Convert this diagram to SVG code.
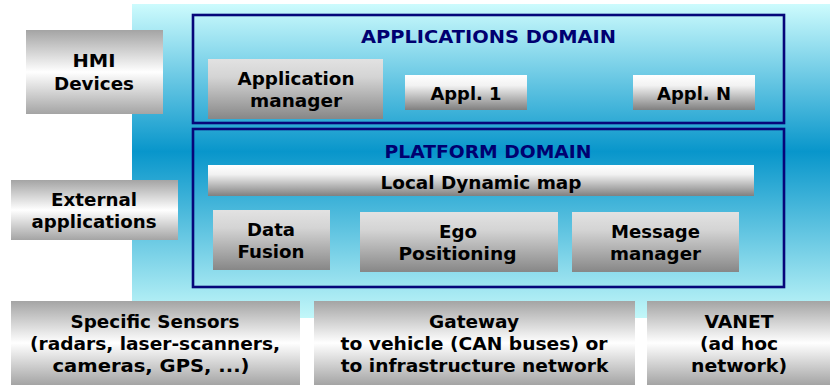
<svg xmlns="http://www.w3.org/2000/svg" width="830" height="385" viewBox="0 0 830 385">
<defs>
<linearGradient id="bg" x1="0" y1="0" x2="0" y2="1">
<stop offset="0" stop-color="#cdfbfd"/>
<stop offset="0.47" stop-color="#0896cb"/>
<stop offset="1" stop-color="#c2f7f9"/>
</linearGradient>
<linearGradient id="gSym" x1="0" y1="0" x2="0" y2="1">
<stop offset="0" stop-color="#a4a4a4"/>
<stop offset="0.5" stop-color="#ffffff"/>
<stop offset="1" stop-color="#a4a4a4"/>
</linearGradient>
<linearGradient id="gDark" x1="0" y1="0" x2="0" y2="1">
<stop offset="0" stop-color="#e2e2e2"/>
<stop offset="0.3" stop-color="#d4d4d4"/>
<stop offset="1" stop-color="#878787"/>
</linearGradient>
<linearGradient id="gWhite" x1="0" y1="0" x2="0" y2="1">
<stop offset="0" stop-color="#ffffff"/>
<stop offset="0.3" stop-color="#f2f2f2"/>
<stop offset="1" stop-color="#808080"/>
</linearGradient>
</defs>
<style>
text{font-family:"DejaVu Sans","Verdana",sans-serif;font-weight:bold;font-size:18.5px;text-anchor:middle;fill:#000}
.title{fill:#000070}
.dom{fill:none;stroke:#06067a;stroke-width:2.6}
.sym{fill:url(#gSym)}
.dark{fill:url(#gDark)}
.white{fill:url(#gWhite)}
</style>
<rect x="0" y="0" width="830" height="385" fill="#ffffff"/>
<rect id="background" x="132" y="4" width="698" height="314" fill="url(#bg)"/>

<g id="applications-domain">
<rect class="dom" x="193" y="15" width="591" height="108"/>
<text class="title" x="488.5" y="42.5" textLength="255" lengthAdjust="spacingAndGlyphs">APPLICATIONS DOMAIN</text>
</g>
<g id="platform-domain">
<rect class="dom" x="193" y="129" width="591" height="158"/>
<text class="title" x="488" y="158" textLength="207" lengthAdjust="spacingAndGlyphs">PLATFORM DOMAIN</text>
</g>

<g id="hmi-devices">
<rect class="sym" x="26" y="30" width="137" height="84"/>
<text x="94" y="67" textLength="43" lengthAdjust="spacingAndGlyphs">HMI</text>
<text x="94" y="90" textLength="80" lengthAdjust="spacingAndGlyphs">Devices</text>
</g>
<g id="external-applications">
<rect class="sym" x="11" y="180" width="167" height="60"/>
<text x="94" y="206" textLength="86" lengthAdjust="spacingAndGlyphs">External</text>
<text x="94" y="228" textLength="125" lengthAdjust="spacingAndGlyphs">applications</text>
</g>

<g id="application-manager">
<rect class="dark" x="208" y="59" width="175" height="60"/>
<text x="296" y="84.5" textLength="117" lengthAdjust="spacingAndGlyphs">Application</text>
<text x="296" y="106.5" textLength="92" lengthAdjust="spacingAndGlyphs">manager</text>
</g>
<g id="appl-1">
<rect class="white" x="405" y="75" width="122" height="35"/>
<text x="466" y="100" textLength="71" lengthAdjust="spacingAndGlyphs">Appl. 1</text>
</g>
<g id="appl-n">
<rect class="white" x="633" y="75" width="122" height="35"/>
<text x="694" y="100" textLength="74" lengthAdjust="spacingAndGlyphs">Appl. N</text>
</g>

<g id="local-dynamic-map">
<rect class="white" x="208" y="165" width="546" height="31"/>
<text x="481" y="189" textLength="201" lengthAdjust="spacingAndGlyphs">Local Dynamic map</text>
</g>
<g id="data-fusion">
<rect class="dark" x="213" y="210" width="117" height="60"/>
<text x="271" y="236" textLength="48" lengthAdjust="spacingAndGlyphs">Data</text>
<text x="271" y="258" textLength="67" lengthAdjust="spacingAndGlyphs">Fusion</text>
</g>
<g id="ego-positioning">
<rect class="dark" x="360" y="212" width="198" height="60"/>
<text x="458" y="238" textLength="38" lengthAdjust="spacingAndGlyphs">Ego</text>
<text x="457.5" y="260" textLength="118" lengthAdjust="spacingAndGlyphs">Positioning</text>
</g>
<g id="message-manager">
<rect class="dark" x="572" y="212" width="167" height="60"/>
<text x="655.5" y="238" textLength="89" lengthAdjust="spacingAndGlyphs">Message</text>
<text x="655.5" y="260" textLength="91" lengthAdjust="spacingAndGlyphs">manager</text>
</g>

<g id="specific-sensors">
<rect class="sym" x="11" y="301" width="289" height="84"/>
<text x="155" y="328" textLength="169" lengthAdjust="spacingAndGlyphs">Specific Sensors</text>
<text x="155" y="350" textLength="250" lengthAdjust="spacingAndGlyphs">(radars, laser-scanners,</text>
<text x="151" y="372" textLength="197" lengthAdjust="spacingAndGlyphs">cameras, GPS, ...)</text>
</g>
<g id="gateway">
<rect class="sym" x="314" y="301" width="321" height="84"/>
<text x="474" y="328" textLength="90" lengthAdjust="spacingAndGlyphs">Gateway</text>
<text x="474" y="350" textLength="267" lengthAdjust="spacingAndGlyphs">to vehicle (CAN buses) or</text>
<text x="474.5" y="372" textLength="267.6" lengthAdjust="spacingAndGlyphs">to infrastructure network</text>
</g>
<g id="vanet">
<rect class="sym" x="647" y="301" width="183" height="84"/>
<text x="739" y="328" textLength="69" lengthAdjust="spacingAndGlyphs">VANET</text>
<text x="739" y="350" textLength="78" lengthAdjust="spacingAndGlyphs">(ad hoc</text>
<text x="739" y="372" textLength="96" lengthAdjust="spacingAndGlyphs">network)</text>
</g>
</svg>
